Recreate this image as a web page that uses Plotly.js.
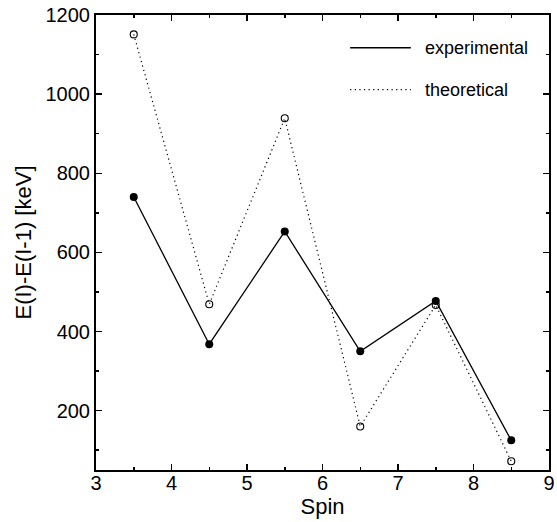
<!DOCTYPE html>
<html>
<head>
<meta charset="utf-8">
<script src="https://cdn.plot.ly/plotly-3.0.1.min.js"></script>
<style>html,body{margin:0;padding:0;background:#fff;}#chart{width:557px;height:522px;}</style>
</head>
<body>
<div id="chart"></div>
<script>
const spin = [3.5, 4.5, 5.5, 6.5, 7.5, 8.5];
const experimental = [740, 368, 653, 350, 477, 125];
const theoretical = [1151, 469, 939, 160, 467, 72];
const seriesNames = ['experimental', 'theoretical'];
const xTicks = [3, 4, 5, 6, 7, 8, 9];
const yTicks = [200, 400, 600, 800, 1000, 1200];

const FONT = 'Liberation Sans, Arial, sans-serif';

const traces = [
  {
    x: spin, y: theoretical, name: seriesNames[1], type: 'scatter', mode: 'lines+markers',
    line: {color: '#000', width: 1.2, dash: '1.2px,3.4px'},
    marker: {symbol: 'circle-open', size: 7, color: '#000', line: {width: 1.1, color: '#000'}},
    cliponaxis: false
  },
  {
    x: spin, y: experimental, name: seriesNames[0], type: 'scatter', mode: 'lines+markers',
    line: {color: '#000', width: 1.3},
    marker: {symbol: 'circle', size: 8, color: '#000'},
    cliponaxis: false
  }
];

const axisCommon = {
  showgrid: false, zeroline: false, showline: true, linecolor: '#000', linewidth: 2,
  mirror: 'allticks', ticks: 'inside', ticklen: 6, tickwidth: 1.5, tickcolor: '#000',
  tickfont: {family: FONT, size: 20, color: '#000'}
};

const layout = {
  width: 557, height: 522,
  margin: {l: 96, r: 8, t: 15, b: 52},
  paper_bgcolor: '#fff', plot_bgcolor: '#fff',
  showlegend: false,
  xaxis: Object.assign({}, axisCommon, {
    range: [3, 9], tickmode: 'array', tickvals: xTicks, ticktext: xTicks.map(String),
    ticklabelstandoff: -6,
    minor: {dtick: 0.5, ticks: 'inside', ticklen: 3, tickwidth: 1.5, tickcolor: '#000'},
    title: {text: 'Spin', font: {family: FONT, size: 22, color: '#000'}, standoff: 4}
  }),
  yaxis: Object.assign({}, axisCommon, {
    range: [50, 1200], tickmode: 'array', tickvals: yTicks, ticktext: yTicks.map(String),
    minor: {tickvals: [100, 300, 500, 700, 900, 1100], ticks: 'inside', ticklen: 3, tickwidth: 1.5, tickcolor: '#000'},
    title: {text: 'E(I)-E(I-1) [keV]', font: {family: FONT, size: 22, color: '#000'}, standoff: 8}
  }),
  shapes: [
    {type: 'line', xref: 'paper', yref: 'paper', x0: 0.561, x1: 0.695, y0: 0.928, y1: 0.928,
     line: {color: '#000', width: 1.3}},
    {type: 'line', xref: 'paper', yref: 'paper', x0: 0.561, x1: 0.695, y0: 0.836, y1: 0.836,
     line: {color: '#000', width: 1.2, dash: '1.2px,3.4px'}}
  ],
  annotations: [
    {xref: 'paper', yref: 'paper', x: 0.722, y: 0.928, xanchor: 'left', yanchor: 'middle',
     text: seriesNames[0], showarrow: false, font: {family: FONT, size: 18, color: '#000'}},
    {xref: 'paper', yref: 'paper', x: 0.722, y: 0.836, xanchor: 'left', yanchor: 'middle',
     text: seriesNames[1], showarrow: false, font: {family: FONT, size: 18, color: '#000'}}
  ]
};

Plotly.newPlot('chart', traces, layout, {staticPlot: true, displayModeBar: false});
</script>
</body>
</html>
